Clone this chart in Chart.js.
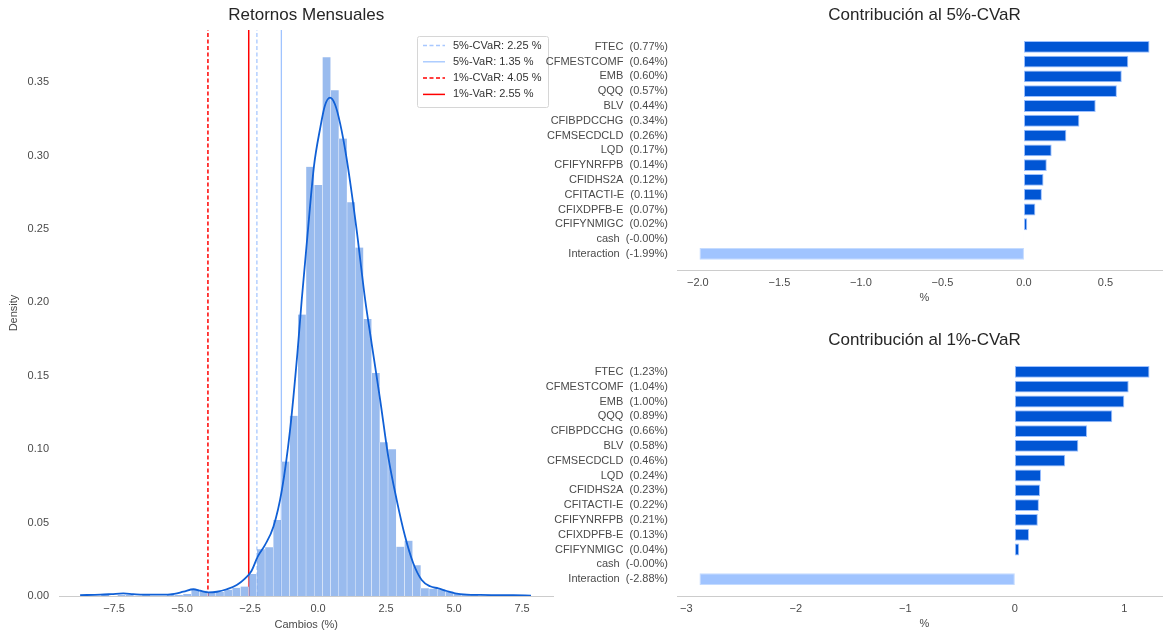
<!DOCTYPE html>
<html>
<head>
<meta charset="utf-8">
<script src="https://cdn.jsdelivr.net/npm/chart.js@4.4.0/dist/chart.umd.min.js"></script>
<style>
html, body { margin: 0; padding: 0; background: #fff; overflow: hidden; }
#page { position: relative; width: 1163px; height: 634px; overflow: hidden; }
.box { position: absolute; }
#left { left: 0; top: 0; width: 556px; height: 634px; }
#top { left: 540px; top: 0; width: 632px; height: 305px; }
#bottom { left: 540px; top: 325px; width: 632px; height: 306px; }
</style>
</head>
<body>
<div id="page">
  <div class="box" id="left"><canvas id="histChart"></canvas></div>
  <div class="box" id="top"><canvas id="cvar5Chart"></canvas></div>
  <div class="box" id="bottom"><canvas id="cvar1Chart"></canvas></div>
</div>
<script>
// --- histogram of monthly returns (50 bins) ---
const binStart = -7.98;
const binWidth = 0.3015;
const density = [
  0.0007, 0, 0.0007, 0.0007, 0, 0.0007, 0, 0, 0.0007, 0.0007,
  0.0014, 0.0045, 0.0035, 0.0021, 0.0028, 0.0042, 0.0056, 0.0064, 0.015, 0.0318,
  0.0332, 0.0518, 0.0916, 0.1228, 0.1917, 0.2924, 0.280, 0.367, 0.3445, 0.3117,
  0.2683, 0.2374, 0.1887, 0.1519, 0.1048, 0.1000, 0.0336, 0.0377, 0.021, 0.0052,
  0.005, 0.0045, 0.003, 0.0014, 0.0007, 0.0007, 0, 0.0007, 0, 0.0007
];

// kde curve
const kdeX = [-8.75, -8.0, -7.6, -7.16, -6.8, -6.42, -5.9, -5.44, -4.95, -4.58, -4.34, -4.03, -3.72, -3.36,
  -2.99, -2.68, -2.45, -2.22, -1.95, -1.64, -1.33, -1.03, -0.76, -0.6, -0.36, -0.15, 0.07, 0.25, 0.44,
  0.62, 0.81, 1.05, 1.4, 1.73, 1.97, 2.28, 2.58, 2.89, 3.2, 3.5, 3.81, 4.12, 4.42, 4.73, 5.04, 5.47,
  5.96, 6.6, 7.17, 7.83];
const kdeY = [0.0006, 0.0009, 0.0013, 0.0018, 0.0013, 0.0009, 0.0009, 0.0011, 0.0029, 0.0046, 0.0036, 0.0025, 0.0029, 0.0046,
  0.0075, 0.012, 0.017, 0.0268, 0.0348, 0.0473, 0.0723, 0.1132, 0.1655, 0.202, 0.252, 0.293, 0.318, 0.334, 0.3395,
  0.335, 0.322, 0.298, 0.252, 0.202, 0.172, 0.134, 0.095, 0.0655, 0.0405, 0.0223, 0.0109, 0.0066, 0.0052, 0.0034, 0.0018, 0.0009,
  0.0007, 0.0006, 0.0005, 0.0003];

const riskNames = ['5%-CVaR', '5%-VaR', '1%-CVaR', '1%-VaR'];
const riskValues = [2.25, 1.35, 4.05, 2.55];
const riskColors = ['#a8c8ff', '#a0c4ff', '#ff0000', '#ff0000'];
const riskDashed = [true, false, true, false];

const histXTicks = [-7.5, -5.0, -2.5, 0.0, 2.5, 5.0, 7.5];
const histYTicks = [0, 0.05, 0.10, 0.15, 0.20, 0.25, 0.30, 0.35];

// --- contributions ---
const names5 = ['FTEC', 'CFMESTCOMF', 'EMB', 'QQQ', 'BLV', 'CFIBPDCCHG', 'CFMSECDCLD', 'LQD',
  'CFIFYNRFPB', 'CFIDHS2A', 'CFITACTI-E', 'CFIXDPFB-E', 'CFIFYNMIGC', 'cash', 'Interaction'];
const contrib5 = [0.77, 0.64, 0.60, 0.57, 0.44, 0.34, 0.26, 0.17, 0.14, 0.12, 0.11, 0.07, 0.02, -0.001, -1.99];
const ticks5 = [-2.0, -1.5, -1.0, -0.5, 0.0, 0.5];

const names1 = ['FTEC', 'CFMESTCOMF', 'EMB', 'QQQ', 'CFIBPDCCHG', 'BLV', 'CFMSECDCLD', 'LQD',
  'CFIDHS2A', 'CFITACTI-E', 'CFIFYNRFPB', 'CFIXDPFB-E', 'CFIFYNMIGC', 'cash', 'Interaction'];
const contrib1 = [1.23, 1.04, 1.00, 0.89, 0.66, 0.58, 0.46, 0.24, 0.23, 0.22, 0.21, 0.13, 0.04, -0.001, -2.88];
const ticks1 = [-3, -2, -1, 0, 1];

Chart.defaults.font.family = "'Liberation Sans', Arial, sans-serif";
Chart.defaults.font.size = 11;
Chart.defaults.color = '#4a4a4a';

const titleColor = '#262626';
const axisColor = '#cccccc';
const blue = '#0055d4';
const lightBlue = '#a0c4ff';

const fmt = (v, d) => v.toFixed(d).replace('-', '\u2212');

// title centred over the plot area, like matplotlib does
const areaTitle = {
  id: 'areaTitle',
  afterDraw(chart, args, opts) {
    const { ctx, chartArea } = chart;
    ctx.save();
    ctx.font = "17px 'Liberation Sans', Arial, sans-serif";
    ctx.fillStyle = titleColor;
    ctx.textAlign = 'center';
    ctx.textBaseline = 'middle';
    ctx.fillText(opts.text, (chartArea.left + chartArea.right) / 2, 15.7);
    ctx.restore();
  }
};

// legend drawn inside the histogram, upper right
const refLegend = {
  id: 'refLegend',
  afterDatasetsDraw(chart) {
    const { ctx, chartArea } = chart;
    const items = chart.data.datasets.filter(d => d.inLegend);
    const w = 131, h = 71, rowH = 16.3;
    const x0 = chartArea.right - 5.5 - w;
    const y0 = chartArea.top + 6;
    ctx.save();
    ctx.fillStyle = 'rgba(255,255,255,0.85)';
    ctx.strokeStyle = '#d6d6d6';
    ctx.lineWidth = 1;
    ctx.beginPath();
    ctx.roundRect(x0 + 0.5, y0 + 0.5, w, h, 2);
    ctx.fill();
    ctx.stroke();
    items.forEach((d, i) => {
      const y = y0 + 9.5 + i * rowH;
      ctx.strokeStyle = d.borderColor;
      ctx.lineWidth = d.borderWidth;
      ctx.setLineDash(d.borderDash || []);
      ctx.beginPath();
      ctx.moveTo(x0 + 6, y);
      ctx.lineTo(x0 + 28, y);
      ctx.stroke();
      ctx.setLineDash([]);
      ctx.fillStyle = '#333';
      ctx.font = "11px 'Liberation Sans', Arial, sans-serif";
      ctx.textBaseline = 'middle';
      ctx.fillText(d.label, x0 + 36, y);
    });
    ctx.restore();
  }
};

const histYMax = 0.3856;

const riskSets = riskNames.map((n, i) => ({
  type: 'line',
  label: `${n}: ${riskValues[i].toFixed(2)} %`,
  inLegend: true,
  data: [{ x: -riskValues[i], y: 0 }, { x: -riskValues[i], y: histYMax }],
  borderColor: riskColors[i],
  borderWidth: i < 2 ? 1.3 : 1.5,
  borderDash: riskDashed[i] ? [4, 2.5] : [],
  pointRadius: 0,
  order: 3
}));

new Chart(document.getElementById('histChart'), {
  type: 'bar',
  data: {
    datasets: [
      {
        type: 'line',
        label: 'kde',
        data: kdeX.map((x, i) => ({ x: x, y: kdeY[i] })),
        borderColor: '#1060d6',
        borderWidth: 1.8,
        pointRadius: 0,
        cubicInterpolationMode: 'monotone',
        order: 0
      },
      {
        type: 'bar',
        label: 'hist',
        data: density.map((v, i) => ({ x: binStart + (i + 0.5) * binWidth, y: v })),
        backgroundColor: 'rgba(0,85,212,0.4)',
        borderColor: 'rgba(255,255,255,0.75)',
        borderWidth: { left: 0.5, right: 0.5, top: 0, bottom: 0 },
        borderSkipped: false,
        barPercentage: 1,
        categoryPercentage: 1,
        order: 1
      },
      ...riskSets
    ]
  },
  options: {
    animation: false,
    responsive: true,
    maintainAspectRatio: false,
    layout: { padding: { top: 30, right: 2.5 } },
    plugins: {
      legend: { display: false },
      tooltip: { enabled: false },
      areaTitle: { text: 'Retornos Mensuales' }
    },
    scales: {
      x: {
        type: 'linear',
        offset: false,
        min: -9.5265,
        max: 8.6565,
        grid: { display: false, drawTicks: false },
        border: { display: true, color: axisColor, width: 1 },
        afterBuildTicks: s => { s.ticks = histXTicks.map(v => ({ value: v })); },
        afterFit: s => { s.height = 38; },
        ticks: { padding: 6, autoSkip: false, maxRotation: 0, callback: v => fmt(v, 1) },
        title: { display: true, text: 'Cambios (%)', padding: { top: 0, bottom: 2 } }
      },
      y: {
        min: 0,
        max: histYMax,
        grid: { display: false, drawTicks: false },
        border: { display: false },
        afterBuildTicks: s => { s.ticks = histYTicks.map(v => ({ value: v })); },
        afterFit: s => { s.width = 59; },
        ticks: { padding: 10, autoSkip: false, callback: v => v.toFixed(2) },
        title: { display: true, text: 'Density', padding: { top: 7, bottom: 0 } }
      }
    }
  },
  plugins: [refLegend, areaTitle]
});

function contribChart(id, title, names, values, xTicks, xMin, xMax, decimals, axisH) {
  const labels = names.map((n, i) => `${n}  (${values[i].toFixed(2)}%)`);
  return new Chart(document.getElementById(id), {
    type: 'bar',
    data: {
      datasets: [{
        data: values.map((v, i) => ({ x: v, y: i })),
        backgroundColor: values.map(v => v < 0 ? lightBlue : blue),
        borderColor: values.map(v => v < 0 ? '#c4dbff' : '#9cc0ff'),
        borderWidth: 1,
        borderSkipped: false,
        categoryPercentage: 0.8,
        barPercentage: 1
      }]
    },
    options: {
      indexAxis: 'y',
      animation: false,
      responsive: true,
      maintainAspectRatio: false,
      layout: { padding: { top: 30 } },
      plugins: {
        legend: { display: false },
        tooltip: { enabled: false },
        areaTitle: { text: title }
      },
      scales: {
        x: {
          type: 'linear',
          min: xMin,
          max: xMax,
          grid: { display: false, drawTicks: false },
          border: { display: true, color: axisColor, width: 1 },
          afterBuildTicks: s => { s.ticks = xTicks.map(v => ({ value: v })); },
          afterFit: s => { s.height = axisH; },
          ticks: { padding: 6, autoSkip: false, maxRotation: 0, callback: v => fmt(v, decimals) },
          title: { display: true, text: '%', padding: { top: 0, bottom: 0 } }
        },
        y: {
          type: 'linear',
          reverse: true,
          offset: false,
          min: -1.14,
          max: 15.14,
          grid: { display: false, drawTicks: false },
          border: { display: false },
          afterBuildTicks: s => { s.ticks = labels.map((l, i) => ({ value: i })); },
          afterFit: s => { s.width = 137; },
          ticks: { padding: 9, autoSkip: false, callback: v => labels[v] }
        }
      }
    },
    plugins: [areaTitle]
  });
}

contribChart('cvar5Chart', 'Contribución al 5%-CVaR', names5, contrib5, ticks5, -2.128, 0.908, 1, 34.3);
contribChart('cvar1Chart', 'Contribución al 1%-CVaR', names1, contrib1, ticks1, -3.0855, 1.4355, 0, 35);
</script>
</body>
</html>
